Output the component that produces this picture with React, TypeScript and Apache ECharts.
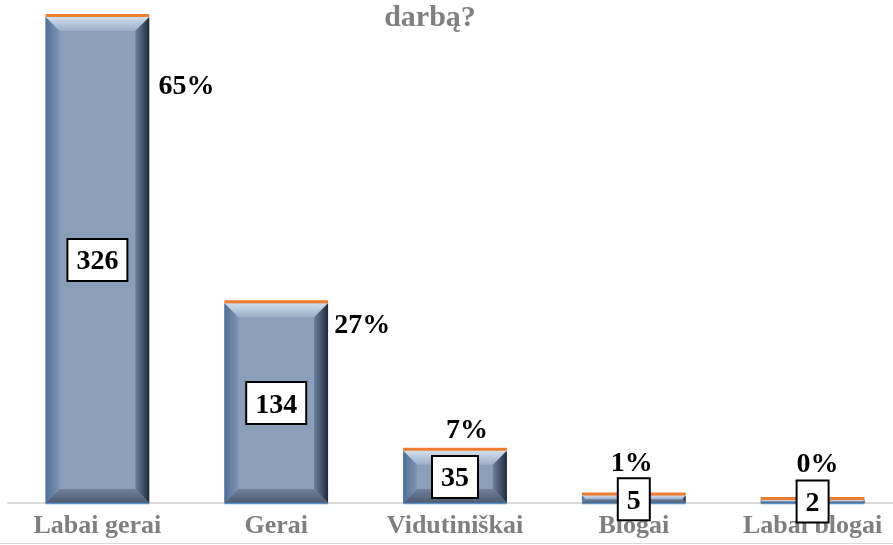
import React, { useEffect, useRef } from "react";
import * as echarts from "echarts";

const CATEGORIES = ["Labai gerai", "Gerai", "Vidutiniškai", "Blogai", "Labai blogai"];
const COUNTS = [326, 134, 35, 5, 2];
const PERCENTS = [65, 27, 7, 1, 0];
const TITLE_TEXT = "darbą?";

// label placement (layout only): offset of the percent label from the bar's top centre
const PCT_OFFSETS: [number, number][] = [
  [89, 68],
  [86, 20],
  [12, -22],
  [-2, -34],
  [5, -38],
];

const SERIF = '"Liberation Serif", "Times New Roman", serif';

export default function App() {
  const ref = useRef<HTMLDivElement>(null);

  useEffect(() => {
    if (!ref.current) return;
    const chart = echarts.init(ref.current, undefined, { renderer: "svg" });

    const data = COUNTS.map((c, i) => [i, c, PERCENTS[i]]);

    const renderItem = (params: any, api: any) => {
      const i = api.value(0);
      const v = api.value(1);
      const pct = api.value(2);
      const top = api.coord([i, v]);
      const base = api.coord([i, 0]);
      const bw = api.size([1, 0])[0] * 0.58;
      const x0 = top[0] - bw / 2;
      const x1 = x0 + bw;
      const y0 = top[1];
      const y1 = base[1];
      const h = y1 - y0;
      const b = Math.max(0.5, Math.min(14, h / 2, bw / 2));
      const off = PCT_OFFSETS[params.dataIndex] || [0, -30];
      return {
        type: "group",
        children: [
          {
            type: "rect",
            shape: { x: x0, y: y0, width: bw, height: h },
            style: { fill: "#8b9fba" },
          },
          {
            type: "polygon",
            shape: { points: [[x0, y0], [x1, y0], [x1 - b, y0 + b], [x0 + b, y0 + b]] },
            style: {
              fill: new echarts.graphic.LinearGradient(0, 0, 0, 1, [
                { offset: 0, color: "#d2deec" },
                { offset: 1, color: "#9aaec7" },
              ]),
            },
          },
          {
            type: "polygon",
            shape: { points: [[x0, y0], [x0 + b, y0 + b], [x0 + b, y1 - b], [x0, y1]] },
            style: {
              fill: new echarts.graphic.LinearGradient(0, 0, 1, 0, [
                { offset: 0, color: "#4f6f96" },
                { offset: 1, color: "#7f95b2" },
              ]),
            },
          },
          {
            type: "polygon",
            shape: { points: [[x1, y0], [x1, y1], [x1 - b, y1 - b], [x1 - b, y0 + b]] },
            style: {
              fill: new echarts.graphic.LinearGradient(0, 0, 1, 0, [
                { offset: 0, color: "#6d819c" },
                { offset: 0.6, color: "#3d4f66" },
                { offset: 1, color: "#1c2837" },
              ]),
            },
          },
          {
            type: "polygon",
            shape: { points: [[x0, y1], [x1, y1], [x1 - b, y1 - b], [x0 + b, y1 - b]] },
            style: {
              fill: new echarts.graphic.LinearGradient(0, 0, 0, 1, [
                { offset: 0, color: "#6f819a" },
                { offset: 1, color: "#4b5a70" },
              ]),
            },
          },
          {
            type: "line",
            shape: { x1: x0, y1: y1 + 0.5, x2: x1, y2: y1 + 0.5 },
            style: { stroke: "#5b8fc7", lineWidth: 1.5 },
          },
          {
            type: "rect",
            shape: { x: x0, y: y0 - 3, width: bw, height: 3 },
            style: { fill: "#ed7d31" },
          },
          {
            type: "text",
            x: top[0],
            y: (y0 + y1) / 2,
            style: {
              text: String(v),
              font: `bold 28px ${SERIF}`,
              fill: "#000",
              align: "center",
              verticalAlign: "middle",
              backgroundColor: "#fff",
              borderColor: "#000",
              borderWidth: 2,
              padding: [4, 8],
              lineHeight: 32,
            },
            z2: 10,
          },
          {
            type: "text",
            x: top[0] + off[0],
            y: y0 + off[1],
            style: {
              text: pct + "%",
              font: `bold 28px ${SERIF}`,
              fill: "#000",
              align: "center",
              verticalAlign: "middle",
            },
            z2: 10,
          },
        ],
      };
    };

    chart.setOption({
      animation: false,
      grid: { left: 8, right: -9, top: 11, bottom: 42, outerBoundsMode: "none", containLabel: false },
      xAxis: {
        type: "category",
        data: CATEGORIES,
        axisLine: { show: true, lineStyle: { color: "#d9d9d9", width: 2 } },
        axisTick: { show: false },
        axisLabel: {
          interval: 0,
          margin: 8,
          color: "#7f7f7f",
          fontWeight: "bold",
          fontSize: 26,
          fontFamily: SERIF,
        },
      },
      yAxis: {
        type: "value",
        min: 0,
        max: 330,
        show: false,
        splitLine: { show: false },
      },
      graphic: [
        {
          type: "text",
          x: 430,
          y: 15,
          style: {
            text: TITLE_TEXT,
            font: `bold 30px ${SERIF}`,
            fill: "#808080",
            textAlign: "center",
            textVerticalAlign: "middle",
          },
        },
        {
          type: "line",
          shape: { x1: 0, y1: 543.5, x2: 893, y2: 543.5 },
          style: { stroke: "#d9d9d9", lineWidth: 1 },
        },
      ],
      series: [
        {
          type: "custom",
          renderItem,
          data,
          encode: { x: 0, y: 1 },
          clip: false,
        },
      ],
    });

    return () => chart.dispose();
  }, []);

  return (
    <div
      ref={ref}
      style={{ position: "fixed", left: 0, top: 0, width: 893, height: 545 }}
    />
  );
}
